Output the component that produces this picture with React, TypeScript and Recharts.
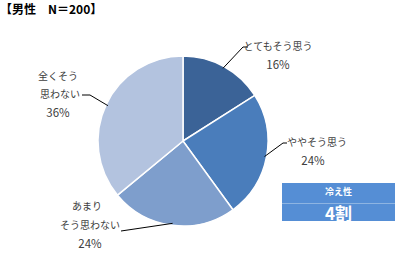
import React from 'react';
import { PieChart, Pie, Cell } from 'recharts';

const categories = ['とてもそう思う', 'ややそう思う', 'あまりそう思わない', '全くそう思わない'];
const shares = [16, 24, 24, 36];
const labelLines = [['とてもそう思う'], ['ややそう思う'], ['あまり', 'そう思わない'], ['全くそう', '思わない']];
const colors = ['#3B6397', '#4A7DBB', '#7E9ECC', '#B3C3DF'];

const data = categories.map((name, i) => ({ name, value: shares[i] }));

// label placement relative to pie center: leader line points, then text line centers
const layout = [
  { line: [[60, -94], [65, -94]], text: [[95, -96], [95, -77]] },
  { line: [[100, 2], [104, 2]], text: [[134, 0], [130, 19]] },
  { line: [[-62, 90]], text: [[-96, 64], [-93, 83], [-93, 102]] },
  { line: [[-93, -46], [-101, -46]], text: [[-125, -66], [-123, -48], [-125, -29]] },
];

const RADIAN = Math.PI / 180;

const renderLabel = (props: any) => {
  const { cx, cy, midAngle, outerRadius, index } = props;
  const ex = cx + (outerRadius - 2) * Math.cos(-midAngle * RADIAN);
  const ey = cy + (outerRadius - 2) * Math.sin(-midAngle * RADIAN);
  const cfg = layout[index];
  const pts = [[ex, ey], ...cfg.line.map(([dx, dy]) => [cx + dx, cy + dy])];
  const lines = [...labelLines[index], `${shares[index]}%`];
  return (
    <g key={`lbl-${index}`}>
      <polyline points={pts.map((p) => p.join(',')).join(' ')} fill="none" stroke="#000" strokeWidth={1} />
      {lines.map((t, i) => (
        <text
          key={i}
          x={cx + cfg.text[i][0]}
          y={cy + cfg.text[i][1]}
          textAnchor="middle"
          dominantBaseline="central"
          fontSize={i === lines.length - 1 ? 11.5 : 10}
          fill="#404040"
          fontFamily="'Noto Sans CJK JP', sans-serif"
        >
          {t}
        </text>
      ))}
    </g>
  );
};

export default function App() {
  return (
    <div style={{ position: 'fixed', left: 0, top: 0, width: 399, height: 254, background: '#fff' }}>
      <div
        style={{
          position: 'absolute',
          left: 0,
          top: 1,
          fontSize: 12,
          fontWeight: 'bold',
          fontFamily: "'Noto Sans CJK JP', sans-serif",
          color: '#000',
          whiteSpace: 'pre',
          lineHeight: '16px',
        }}
      >
        {'【男性　N＝200】'}
      </div>
      <PieChart width={399} height={254} margin={{ top: 0, right: 0, bottom: 0, left: 0 }}>
        <Pie
          data={data}
          dataKey="value"
          cx={183}
          cy={141}
          outerRadius={85}
          startAngle={90}
          endAngle={-270}
          stroke="#fff"
          strokeWidth={1.5}
          label={renderLabel}
          labelLine={false}
          isAnimationActive={false}
        >
          {data.map((d, i) => (
            <Cell key={d.name} fill={colors[i]} />
          ))}
        </Pie>
      </PieChart>
      <div
        style={{
          position: 'absolute',
          left: 282,
          top: 183,
          width: 113,
          height: 38,
          background: '#558ED5',
          color: '#fff',
          fontFamily: "'Noto Sans CJK JP', sans-serif",
          fontWeight: 'bold',
          textAlign: 'center',
        }}
      >
        <div style={{ height: 20, lineHeight: '17px', fontSize: 9, borderBottom: '1px solid #8DB4E2' }}>冷え性</div>
        <div style={{ fontSize: 17, lineHeight: '17px' }}>4割</div>
      </div>
    </div>
  );
}
